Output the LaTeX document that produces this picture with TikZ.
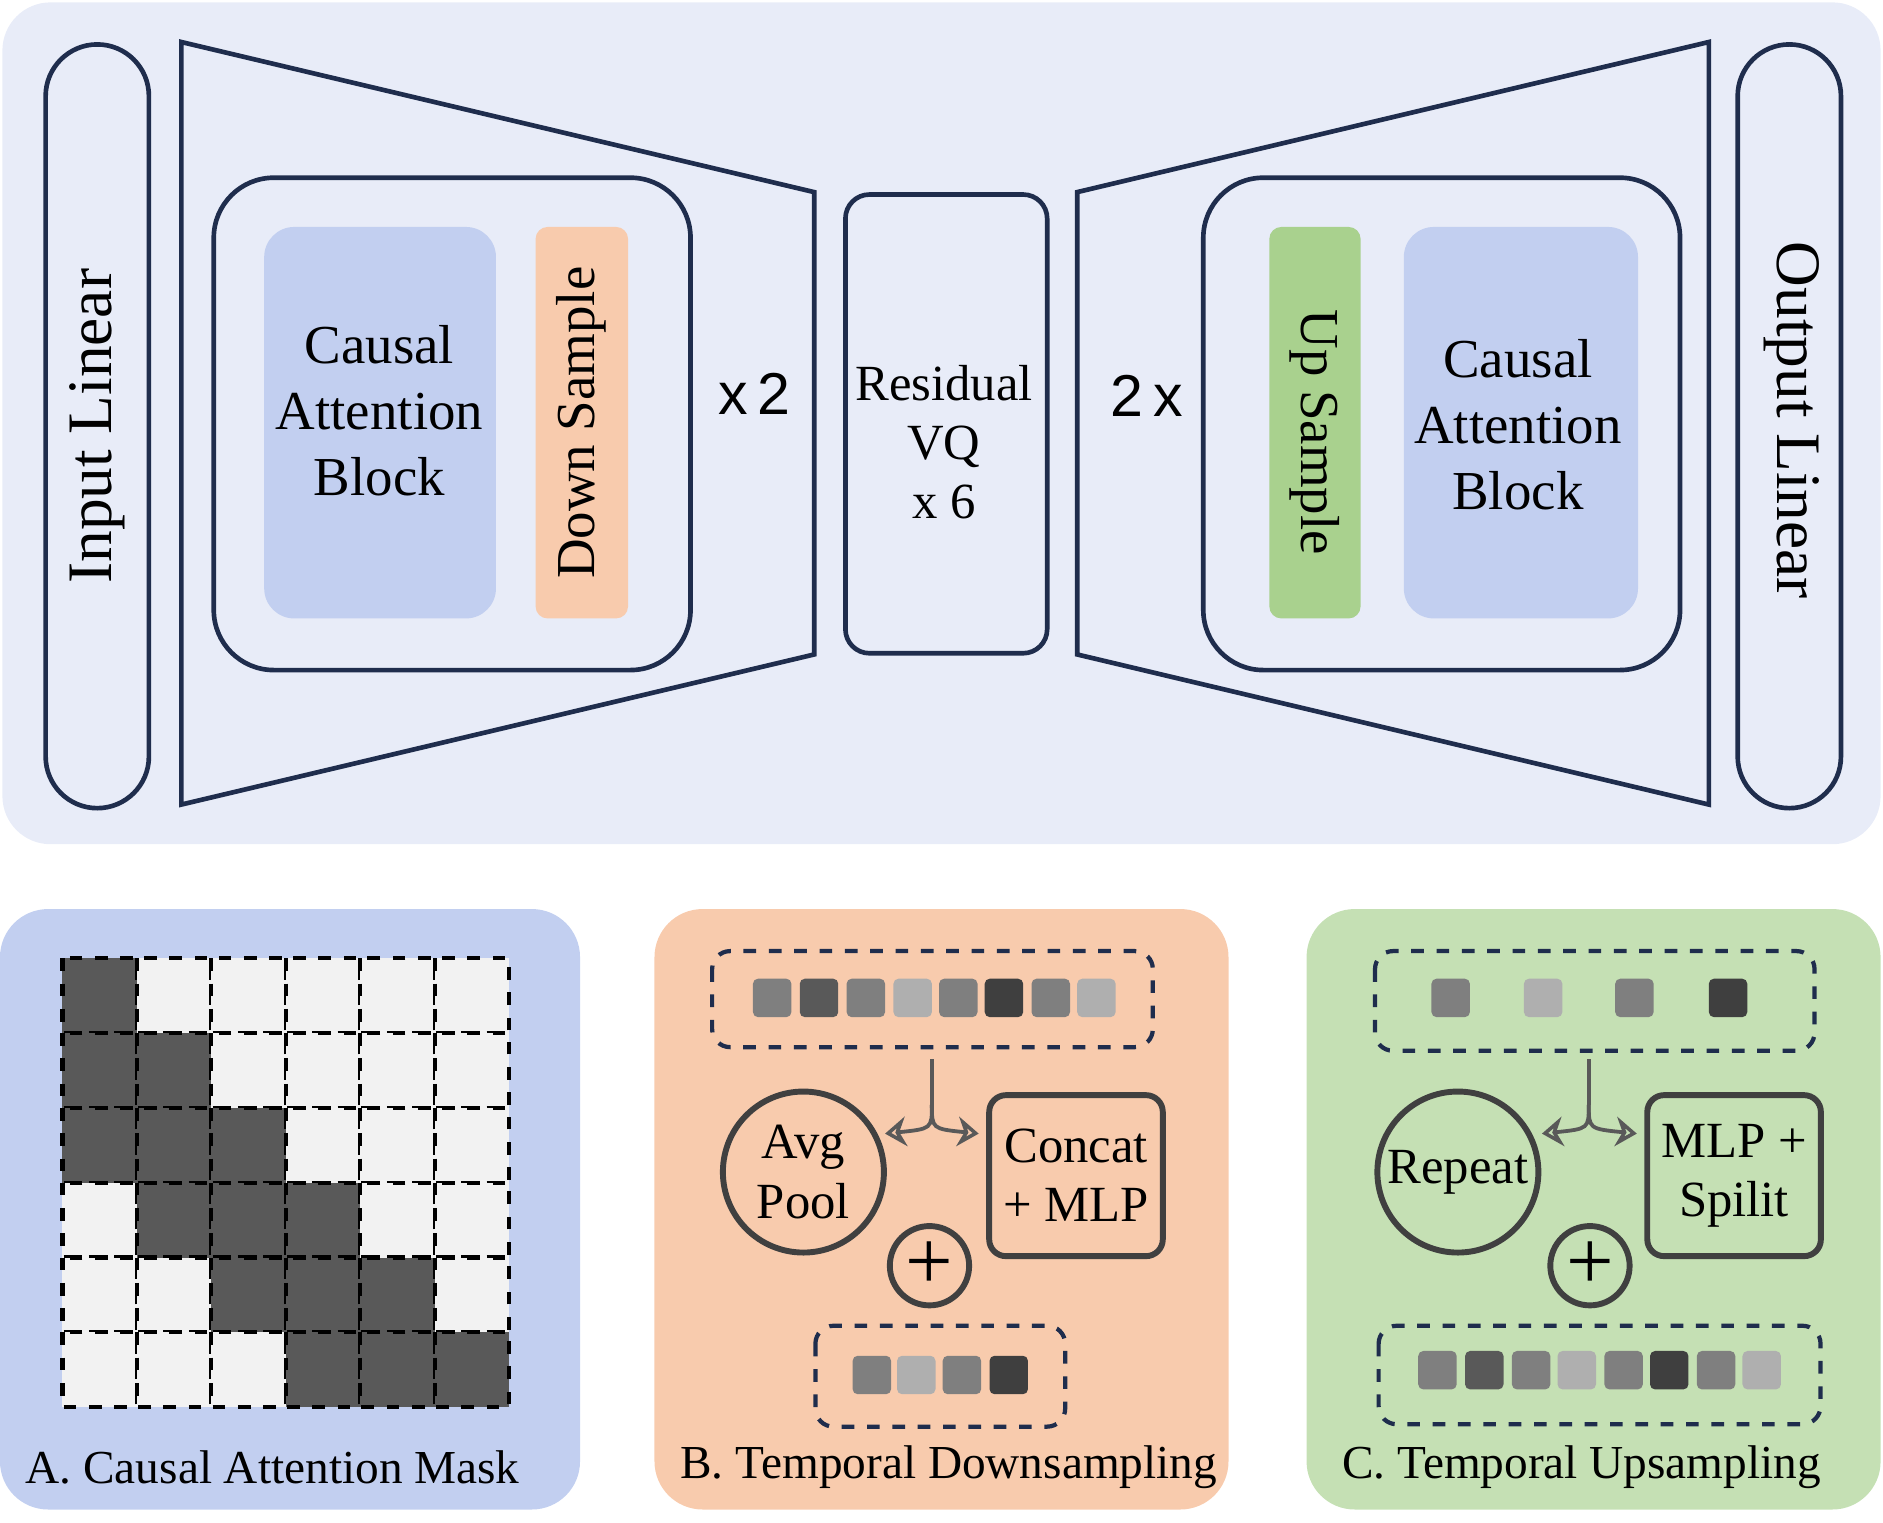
\documentclass[tikz,border=0pt]{standalone}
\usepackage{fontspec}
\setmainfont{Liberation Serif}
\newfontfamily\sansf{Liberation Sans}
\usepackage{tikz}
\usetikzlibrary{arrows.meta, positioning, shapes}
\definecolor{topbg}{HTML}{E8ECF8}
\definecolor{navy}{HTML}{1F2D4D}
\definecolor{attn}{HTML}{C2CFF0}
\definecolor{down}{HTML}{F8CBAD}
\definecolor{upgreen}{HTML}{A9D18E}
\definecolor{panelc}{HTML}{C5E0B4}
\definecolor{gA}{HTML}{7F7F7F}
\definecolor{gB}{HTML}{595959}
\definecolor{gC}{HTML}{AFAFAF}
\definecolor{gD}{HTML}{3F3F3F}
\definecolor{cellL}{HTML}{F2F2F2}
\definecolor{opgray}{HTML}{404040}

\begin{document}
\begin{tikzpicture}[x=0.01cm, y=-0.01cm,
	frame/.style={draw=navy, line width=1.1pt},
	block/.style={inner sep=0pt, align=center, font=\fontsize{13}{15.6}\selectfont},
	tok/.style={minimum size=0.32cm, inner sep=0pt, rounded corners=1.2pt},
	dashbox/.style={draw=navy, dashed, line width=1pt, rounded corners=0.15cm},
	op/.style={draw=opgray, line width=1.4pt, align=center, font=\fontsize{12}{14}\selectfont},
	split/.style={draw=gB, line width=0.9pt, -{Stealth[open, length=5pt, width=7pt]}},
	caption/.style={font=\fontsize{11.2}{14}\selectfont}
]

\useasboundingbox (0,0) rectangle (1568,1268);

% top: encoder / decoder
\fill[topbg, rounded corners=0.4cm] (2,2) rectangle (1566,703);
\draw[frame, rounded corners=0.43cm] (38,37) rectangle (124,673);
\node[rotate=90, font=\fontsize{15}{18}\selectfont] (inlin) at (81,355) {Input Linear};
\draw[frame] (151,35) -- (678,160) -- (678,545) -- (151,670) -- cycle;
\draw[frame, rounded corners=0.5cm] (178,148) rectangle (575,558);
\fill[attn, rounded corners=0.25cm] (220,189) rectangle (413,515);
\node[block] (enc) at (316,342) {Causal\\Attention\\Block};
\fill[down, rounded corners=0.1cm] (446,189) rectangle (523,515);
\node[rotate=90, font=\fontsize{13}{16}\selectfont] (ds) at (484,352) {Down Sample};
\node[font=\sansf\fontsize{14}{17}\selectfont] (xenc) at (628,328) {x\,2};
\draw[frame, rounded corners=0.2cm] (704,162) rectangle (872,544);
\node[align=center, font=\fontsize{12}{14}\selectfont] (rvq) at (786,368) {Residual\\VQ\\x 6};
\draw[frame] (897,160) -- (1423,35) -- (1423,670) -- (897,545) -- cycle;
\node[font=\sansf\fontsize{14}{17}\selectfont] (xdec) at (955,330) {2\,x};
\draw[frame, rounded corners=0.5cm] (1002,148) rectangle (1399,558);
\fill[upgreen, rounded corners=0.1cm] (1057,189) rectangle (1133,515);
\node[rotate=-90, font=\fontsize{13}{16}\selectfont] (us) at (1095,360) {Up Sample};
\fill[attn, rounded corners=0.25cm] (1169,189) rectangle (1364,515);
\node[block] (dec) at (1264,354) {Causal\\Attention\\Block};
\draw[frame, rounded corners=0.43cm] (1447,37) rectangle (1533,673);
\node[rotate=-90, font=\fontsize{15}{18}\selectfont] (outlin) at (1492,350) {Output Linear};

% A. causal attention mask
\fill[attn, rounded corners=0.4cm] (0,757) rectangle (483,1257);
\foreach \r in {0,...,5} {
	\foreach \c in {0,...,5} {
		\pgfmathtruncatemacro{\dark}{(\c<=\r) && (\c>=\r-2) ? 1 : 0}
		\ifnum\dark=1 \def\cc{gB}\else \def\cc{cellL}\fi
		\draw[fill=\cc, dashed, line width=1pt] (52+62*\c,798+62.3*\r) rectangle ++(62,62.3);
	}
}
\node[caption] (capA) at (227,1222) {A. Causal Attention Mask};

% B. temporal downsampling
\fill[down, rounded corners=0.4cm] (545,757) rectangle (1023,1257);
\draw[dashbox] (593,792) rectangle (960,872);
\foreach \x/\cl [count=\i] in {643/gA, 682/gB, 721/gA, 760/gC, 798/gA, 836/gD, 875/gA, 913/gC}
	\node[tok, fill=\cl] (bi\i) at (\x,831) {};
\node[op, circle, minimum size=1.34cm, inner sep=0pt] (avg) at (669,976) {Avg\\Pool};
\node[op, rounded corners=0.14cm, minimum width=1.42cm, minimum height=1.34cm] (cmlp) at (896,979) {Concat\\+ MLP};
\node[op, circle, minimum size=0.66cm, font=\fontsize{20}{20}\selectfont, inner sep=0pt] (bplus) at (774,1054) {+};
\coordinate (bs) at (776,882);
\coordinate (bm) at (776,920);
\coordinate (bl) at (737,944);
\coordinate (br) at (815,944);
\draw[draw=gB, line width=0.9pt] (bs) -- (bm);
\draw[split] (bm) .. controls (776,940) .. (bl);
\draw[split] (bm) .. controls (776,940) .. (br);
\draw[dashbox] (679,1104) rectangle (887,1188);
\foreach \x/\cl [count=\i] in {726/gA, 763/gC, 801/gA, 840/gD}
	\node[tok, fill=\cl] (bo\i) at (\x,1145) {};
\node[caption] (capB) at (790,1222) {B. Temporal Downsampling};

% C. temporal upsampling
\fill[panelc, rounded corners=0.4cm] (1088,757) rectangle (1566,1257);
\draw[dashbox] (1145,792) rectangle (1511,875);
\foreach \x/\cl [count=\i] in {1208/gA, 1285/gC, 1361/gA, 1439/gD}
	\node[tok, fill=\cl] (ci\i) at (\x,831) {};
\node[op, circle, minimum size=1.34cm, inner sep=0pt] (rep) at (1214,976) {Repeat};
\node[op, rounded corners=0.14cm, minimum width=1.43cm, minimum height=1.34cm] (msp) at (1444,979) {MLP +\\Spilit};
\node[op, circle, minimum size=0.66cm, font=\fontsize{20}{20}\selectfont, inner sep=0pt] (cplus) at (1324,1054) {+};
\coordinate (cs) at (1323,882);
\coordinate (cm) at (1323,920);
\coordinate (cl) at (1284,944);
\coordinate (cr) at (1363,944);
\draw[draw=gB, line width=0.9pt] (cs) -- (cm);
\draw[split] (cm) .. controls (1323,940) .. (cl);
\draw[split] (cm) .. controls (1323,940) .. (cr);
\draw[dashbox] (1148,1104) rectangle (1516,1186);
\foreach \x/\cl [count=\i] in {1197/gA, 1236/gB, 1275/gA, 1313/gC, 1352/gA, 1390/gD, 1429/gA, 1467/gC}
	\node[tok, fill=\cl] (co\i) at (\x,1141) {};
\node[caption] (capC) at (1317,1222) {C. Temporal Upsampling};

\end{tikzpicture}
\end{document}
